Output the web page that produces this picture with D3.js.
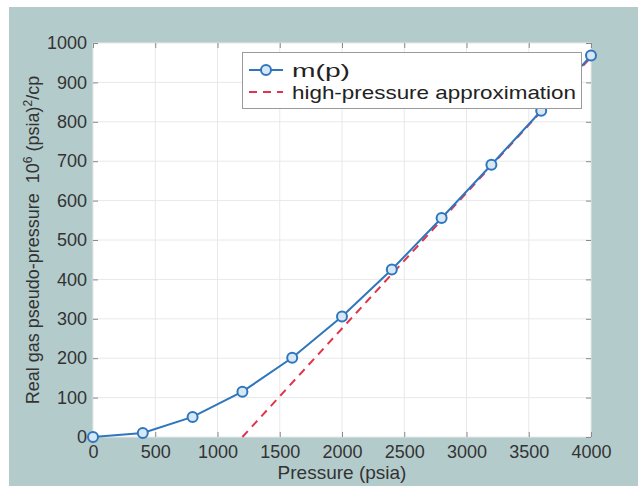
<!DOCTYPE html>
<html lang="en">
<head>
    <meta charset="UTF-8">
    <title>Real gas pseudo-pressure</title>
    <script src="https://d3js.org/d3.v7.min.js"></script>
    <style>
        body { margin: 0; background: #fff; }
        svg { display: block; font-family: "Liberation Sans", Arial, sans-serif; }
        .tick text { fill: #333; font-size: 18px; }
        .tick line { stroke: #8a8a8a; }
        .domain { display: none; }
        .grid line { stroke: #e8e8e8; stroke-width: 1; }
        .label { fill: #333; }
    </style>
</head>
<body>
    <div id="chart"></div>
    <script>
        // pressure (psia) and m(p) in 10^6 psia^2/cp
        var pressure = [0, 400, 800, 1200, 1600, 2000, 2400, 2800, 3200, 3600, 4000];
        var mp = [0, 10, 51, 115, 201, 306, 425, 556, 691, 828, 968];
        // high-pressure approximation (straight line)
        var approxPressure = [1200, 4000];
        var approxMp = [0, 964];
        var xTicks = [0, 500, 1000, 1500, 2000, 2500, 3000, 3500, 4000];
        var yTicks = [0, 100, 200, 300, 400, 500, 600, 700, 800, 900, 1000];
        var legendLabels = ["m(p)", "high-pressure approximation"];

        var width = 638, height = 486;
        var margin = { top: 43, right: 47, bottom: 49, left: 93 };
        var blue = "#2f76bd", red = "#e0344c";

        var svg = d3.select("#chart").append("svg")
            .attr("width", width)
            .attr("height", height);

        // figure background
        svg.append("rect")
            .attr("x", 9).attr("y", 7)
            .attr("width", width - 9).attr("height", height - 7)
            .attr("fill", "#b4cbcc");

        var x = d3.scaleLinear().domain([0, 4000]).range([margin.left, width - margin.right]);
        var y = d3.scaleLinear().domain([0, 1000]).range([height - margin.bottom, margin.top]);

        svg.append("rect")
            .attr("x", x(0)).attr("y", y(1000))
            .attr("width", x(4000) - x(0)).attr("height", y(0) - y(1000))
            .attr("fill", "#fff");

        // grid
        var grid = svg.append("g").attr("class", "grid");
        grid.selectAll(".gx").data(xTicks).enter().append("line")
            .attr("x1", d => x(d)).attr("x2", d => x(d))
            .attr("y1", y(0)).attr("y2", y(1000));
        grid.selectAll(".gy").data(yTicks).enter().append("line")
            .attr("x1", x(0)).attr("x2", x(4000))
            .attr("y1", d => y(d)).attr("y2", d => y(d));

        // axes with inward ticks
        var fmt = d3.format("d");
        svg.append("g")
            .attr("transform", "translate(0," + y(0) + ")")
            .call(d3.axisBottom(x).tickValues(xTicks).tickSize(-5).tickPadding(8).tickFormat(fmt));
        svg.append("g")
            .attr("transform", "translate(0," + y(1000) + ")")
            .call(d3.axisTop(x).tickValues(xTicks).tickSize(-5).tickFormat(""));
        svg.append("g")
            .attr("transform", "translate(" + x(0) + ",0)")
            .call(d3.axisLeft(y).tickValues(yTicks).tickSize(-5).tickPadding(6).tickFormat(fmt));
        svg.append("g")
            .attr("transform", "translate(" + x(4000) + ",0)")
            .call(d3.axisRight(y).tickValues(yTicks).tickSize(-5).tickFormat(""));

        // approximation line
        var approx = approxPressure.map((p, i) => [p, approxMp[i]]);
        svg.append("path")
            .datum(approx)
            .attr("fill", "none")
            .attr("stroke", red)
            .attr("stroke-width", 2)
            .attr("stroke-dasharray", "8,6")
            .attr("d", d3.line().x(d => x(d[0])).y(d => y(d[1])));

        // m(p) line
        var pts = pressure.map((p, i) => [p, mp[i]]);
        svg.append("path")
            .datum(pts)
            .attr("fill", "none")
            .attr("stroke", blue)
            .attr("stroke-width", 2)
            .attr("d", d3.line().x(d => x(d[0])).y(d => y(d[1])));
        svg.selectAll(".pt").data(pts).enter().append("circle")
            .attr("cx", d => x(d[0])).attr("cy", d => y(d[1]))
            .attr("r", 5)
            .attr("fill", "#d6e7f5")
            .attr("stroke", blue)
            .attr("stroke-width", 2);

        // axis labels
        svg.append("text")
            .attr("class", "label")
            .attr("x", (x(0) + x(4000)) / 2)
            .attr("y", 479)
            .attr("text-anchor", "middle")
            .attr("font-size", 19)
            .text("Pressure (psia)");

        var yl = svg.append("text")
            .attr("class", "label")
            .attr("transform", "translate(39," + ((y(0) + y(1000)) / 2) + ") rotate(-90)")
            .attr("text-anchor", "middle")
            .attr("font-size", 18);
        yl.append("tspan").text("Real gas pseudo-pressure\u00a0\u00a010");
        yl.append("tspan").attr("dy", -7).attr("font-size", 12).text("6");
        yl.append("tspan").attr("dy", 7).text(" (psia)");
        yl.append("tspan").attr("dy", -7).attr("font-size", 12).text("2");
        yl.append("tspan").attr("dy", 7).text("/cp");

        // legend
        var lg = svg.append("g");
        lg.append("rect")
            .attr("x", 242.5).attr("y", 52.5)
            .attr("width", 339).attr("height", 56)
            .attr("fill", "#fff")
            .attr("stroke", "#9a9a9a");
        var rows = [70, 92];
        var textWidths = [58, 284];
        lg.append("line")
            .attr("x1", 249).attr("x2", 283).attr("y1", rows[0]).attr("y2", rows[0])
            .attr("stroke", blue).attr("stroke-width", 2);
        lg.append("circle")
            .attr("cx", 266).attr("cy", rows[0]).attr("r", 5)
            .attr("fill", "#d6e7f5").attr("stroke", blue).attr("stroke-width", 2);
        lg.append("line")
            .attr("x1", 249).attr("x2", 283).attr("y1", rows[1]).attr("y2", rows[1])
            .attr("stroke", red).attr("stroke-width", 2).attr("stroke-dasharray", "8,6");
        lg.selectAll(".lt").data(legendLabels).enter().append("text")
            .attr("x", 292)
            .attr("y", (d, i) => rows[i] + 7)
            .attr("font-size", 19)
            .attr("textLength", (d, i) => textWidths[i])
            .attr("lengthAdjust", "spacingAndGlyphs")
            .attr("fill", "#222")
            .text(d => d);
    </script>
</body>
</html>
